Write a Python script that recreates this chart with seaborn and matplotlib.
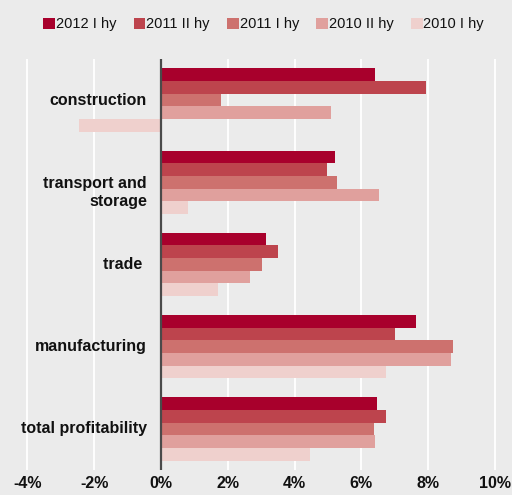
import matplotlib
matplotlib.use("Agg")
import matplotlib.pyplot as plt
import seaborn as sns
import pandas as pd
from matplotlib.ticker import FuncFormatter

categories = ["construction", "transport and\nstorage", "trade ", "manufacturing", "total profitability"]
series = ["2012 I hy", "2011 II hy", "2011 I hy", "2010 II hy", "2010 I hy"]
v_2012_1 = [6.42, 5.20, 3.13, 7.64, 6.47]
v_2011_2 = [7.95, 4.98, 3.51, 7.00, 6.74]
v_2011_1 = [1.81, 5.26, 3.03, 8.74, 6.37]
v_2010_2 = [5.10, 6.53, 2.67, 8.69, 6.42]
v_2010_1 = [-2.46, 0.81, 1.71, 6.74, 4.47]
colors = ["#a8002c", "#bd444d", "#cd716e", "#e0a09d", "#efd0cd"]
xticks = [-4, -2, 0, 2, 4, 6, 8, 10]

rows = []
for s, vals in zip(series, [v_2012_1, v_2011_2, v_2011_1, v_2010_2, v_2010_1]):
    for c, v in zip(categories, vals):
        rows.append({"category": c, "series": s, "value": v})
df = pd.DataFrame(rows)

sns.set_theme(style="white")
plt.rcParams['font.family'] = ['Liberation Sans', 'DejaVu Sans']
bg = "#ebebeb"
fig = plt.figure(figsize=(5.12, 4.95), dpi=100, facecolor=bg)
ax = fig.add_axes([0.0, 0.0505, 1.0, 0.8305])
ax.set_facecolor(bg)

sns.barplot(data=df, y="category", x="value", hue="series", order=categories,
            hue_order=series, palette=colors, orient="h", width=0.77,
            saturation=1, ax=ax, linewidth=0)

ax.set_xlim(-4.82, 10.51)
ax.set_ylim(4.5, -0.5)
ax.set_xticks(xticks)
ax.xaxis.set_major_formatter(FuncFormatter(lambda v, p: f"{v:.0f}%"))
ax.grid(axis="x", color="white", linewidth=1.3)
ax.set_axisbelow(True)
ax.axvline(0, color="#4a4a4a", linewidth=1.6, zorder=5)
for sp in ax.spines.values():
    sp.set_visible(False)
ax.set_xlabel("")
ax.set_ylabel("")
ax.tick_params(axis="x", length=0, pad=4, labelsize=11.5, labelcolor="#111111")
for t in ax.get_xticklabels():
    t.set_fontweight("bold")
ax.set_yticklabels([])
ax.tick_params(axis="y", length=0)
for i, c in enumerate(categories):
    n = c.count("\n")
    ax.text(-0.42, i + n * 0.122, c, ha="right", va="center", fontsize=11.5, fontweight="bold",
            color="#111111", multialignment="right", linespacing=1.22)

leg = ax.legend(loc="upper center", bbox_to_anchor=(0.515, 1.115), ncol=5, frameon=False,
                fontsize=10.5, handlelength=0.8, handleheight=0.8, handletextpad=0.05,
                columnspacing=1.2, borderaxespad=0)
for t in leg.get_texts():
    t.set_color("#111111")

fig.savefig("out.png", dpi=100, facecolor=bg)
